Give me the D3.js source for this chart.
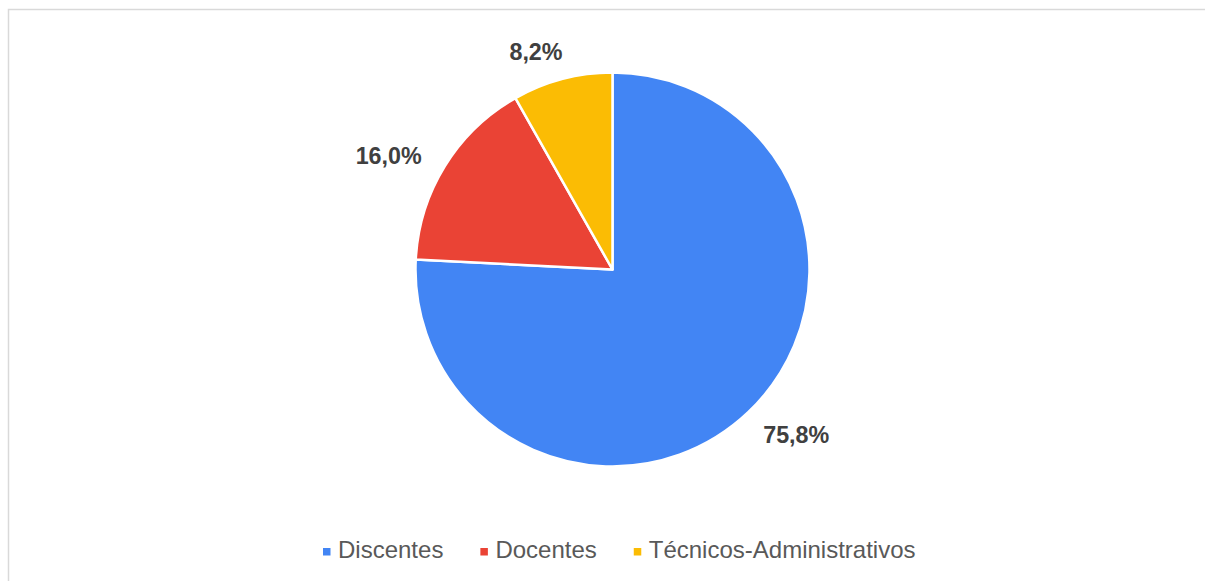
<!DOCTYPE html>
<html>
<head>
<meta charset="utf-8">
<script src="https://cdn.jsdelivr.net/npm/d3@7"></script>
<style>
  html, body { margin: 0; padding: 0; background: #fff; }
  svg { display: block; }
</style>
</head>
<body>
<svg id="chart" width="1205" height="581"></svg>
<script>
const categories = ["Discentes", "Docentes", "Técnicos-Administrativos"];
const values = [75.8, 16.0, 8.2];
const labels = ["75,8%", "16,0%", "8,2%"];
const colors = ["#4285F4", "#EA4335", "#FBBC04"];

const W = 1205, H = 581;
const svg = d3.select("#chart");

// chart border
svg.append("rect")
  .attr("x", 8.5).attr("y", 9.5)
  .attr("width", W + 20).attr("height", H + 20)
  .attr("fill", "#fff")
  .attr("stroke", "#d9d9d9").attr("stroke-width", 1.5);

const cx = 612.5, cy = 269.5, r = 197;
const g = svg.append("g").attr("transform", `translate(${cx},${cy})`);

const pie = d3.pie().sort(null).value(d => d)(values);
const arc = d3.arc().innerRadius(0).outerRadius(r);

g.selectAll("path.slice")
  .data(pie)
  .join("path")
  .attr("class", "slice")
  .attr("d", arc)
  .attr("fill", (d, i) => colors[i])
  .attr("stroke", "#fff")
  .attr("stroke-width", 2.5)
  .attr("stroke-linejoin", "round");

// data labels (outside end)
const gap = 25;
const angShift = -4.6 * Math.PI / 180;
pie.forEach((d, i) => {
  const a = (d.startAngle + d.endAngle) / 2 + angShift;
  const sx = Math.sin(a), sy = -Math.cos(a);
  const t = g.append("text")
    .attr("text-anchor", "middle")
    .attr("font-family", "Liberation Sans, Arial, sans-serif")
    .attr("font-weight", "bold")
    .attr("font-size", 23.3)
    .attr("fill", "#404040")
    .text(labels[i]);
  const w = t.node().getComputedTextLength();
  const capH = 17;
  const R = r + gap + Math.abs(sx) * w / 2;
  t.attr("x", sx * R).attr("y", sy * R + capH / 2);
});

// legend
const legend = svg.append("g");
let x = 323;
const baseY = 557.5;
categories.forEach((c, i) => {
  legend.append("rect")
    .attr("x", x).attr("y", 548)
    .attr("width", 7.5).attr("height", 7.5)
    .attr("fill", colors[i]);
  const t = legend.append("text")
    .attr("x", x + 15).attr("y", baseY)
    .attr("font-family", "Liberation Sans, Arial, sans-serif")
    .attr("font-size", 24)
    .attr("fill", "#595959")
    .text(c);
  x = x + 15 + t.node().getComputedTextLength() + 37;
});
</script>
</body>
</html>
